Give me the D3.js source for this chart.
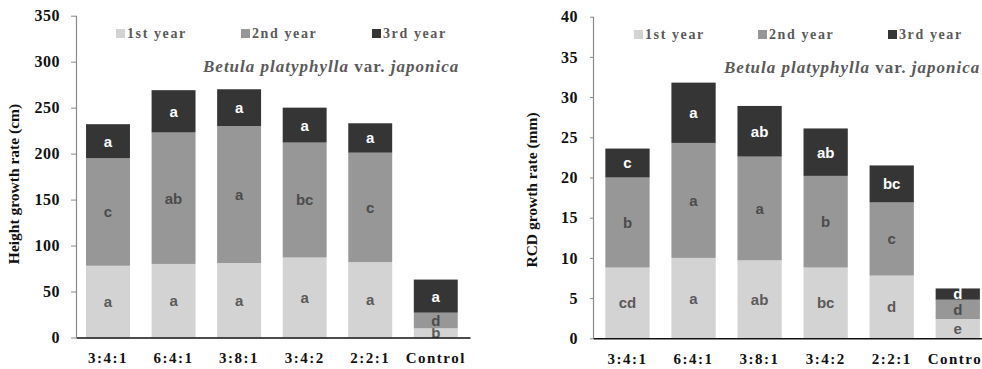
<!DOCTYPE html>
<html>
<head>
<meta charset="utf-8">
<script src="https://cdn.jsdelivr.net/npm/d3@7"></script>
<style>
  body { margin: 0; background: #fff; }
  svg { display: block; }
</style>
</head>
<body>
<svg id="chart" width="982" height="369"></svg>
<script>
// Treatments (fertiliser ratios) and growing seasons
const treatments = ["3:4:1", "6:4:1", "3:8:1", "3:4:2", "2:2:1", "Control"];
const seasons = ["1st year", "2nd year", "3rd year"];

// Height growth (cm) per season, stacked
const heightYear1 = [78, 80, 81, 87, 82, 10];
const heightYear2 = [117, 143, 149, 125, 119, 17];
const heightYear3 = [37, 46, 40, 38, 32, 36];
const heightLetters1 = ["a", "a", "a", "a", "a", "b"];
const heightLetters2 = ["c", "ab", "a", "bc", "c", "d"];
const heightLetters3 = ["a", "a", "a", "a", "a", "a"];
const heightTicks = [0, 50, 100, 150, 200, 250, 300, 350];

// Root collar diameter growth (mm) per season, stacked
const rcdYear1 = [8.8, 10.0, 9.7, 8.8, 7.8, 2.4];
const rcdYear2 = [11.2, 14.3, 12.9, 11.4, 9.1, 2.4];
const rcdYear3 = [3.6, 7.5, 6.3, 5.9, 4.6, 1.4];
const rcdLetters1 = ["cd", "a", "ab", "bc", "d", "e"];
const rcdLetters2 = ["b", "a", "a", "b", "c", "d"];
const rcdLetters3 = ["c", "a", "ab", "ab", "bc", "d"];
const rcdTicks = [0, 5, 10, 15, 20, 25, 30, 35, 40];

const seasonFill = ["#d3d3d3", "#979797", "#353535"];
const letterFill = ["#5a5a5a", "#4c4c4c", "#ffffff"];
const serif = "'Liberation Serif', 'Times New Roman', serif";
const sans = "'Liberation Sans', Arial, sans-serif";

const svg = d3.select("#chart");

function panel(cfg) {
  const rows = treatments.map((t, i) => ({
    treatment: t,
    y1: cfg.years[0][i], y2: cfg.years[1][i], y3: cfg.years[2][i],
    l1: cfg.letters[0][i], l2: cfg.letters[1][i], l3: cfg.letters[2][i]
  }));
  const stack = d3.stack().keys(["y1", "y2", "y3"])(rows);

  const x = d3.scaleBand()
    .domain(treatments)
    .range([cfg.left, cfg.right])
    .paddingInner(0.33)
    .paddingOuter(0.17)
    .align(cfg.align);

  const y = d3.scaleLinear()
    .domain([0, cfg.max])
    .range([cfg.bottom, cfg.top]);

  const g = svg.append("g");

  // stacked bars
  stack.forEach((layer, s) => {
    g.append("g").selectAll("rect")
      .data(layer)
      .join("rect")
      .attr("x", d => x(d.data.treatment))
      .attr("width", x.bandwidth())
      .attr("y", d => y(d[1]))
      .attr("height", d => y(d[0]) - y(d[1]))
      .attr("fill", seasonFill[s]);

    const key = ["l1", "l2", "l3"][s];
    g.append("g").selectAll("text")
      .data(layer)
      .join("text")
      .attr("x", d => x(d.data.treatment) + x.bandwidth() / 2)
      .attr("y", d => (y(d[0]) + y(d[1])) / 2)
      .attr("dy", "0.36em")
      .attr("text-anchor", "middle")
      .attr("font-family", sans)
      .attr("font-weight", "bold")
      .attr("font-size", 15)
      .attr("fill", letterFill[s])
      .text(d => d.data[key]);
  });

  // y axis
  const yAxis = g.append("g")
    .attr("transform", `translate(${cfg.left},0)`)
    .call(d3.axisLeft(y).tickValues(cfg.ticks).tickSize(cfg.tickLen).tickPadding(cfg.tickPad).tickSizeOuter(0));
  yAxis.select(".domain").attr("stroke", "#8a8a8a").attr("stroke-width", 1.2)
    .attr("d", `M0.5,${cfg.bottom}V${y(cfg.max)}`);
  yAxis.selectAll(".tick line").attr("stroke", "#8a8a8a");
  yAxis.selectAll(".tick text")
    .attr("font-family", serif)
    .attr("font-weight", "bold")
    .attr("font-size", 16)
    .attr("letter-spacing", "0.5px")
    .attr("fill", "#111");

  // x axis
  const xAxis = g.append("g")
    .attr("transform", `translate(0,${cfg.bottom})`)
    .call(d3.axisBottom(x).tickSize(0).tickPadding(15));
  xAxis.select(".domain").attr("stroke", "#111").attr("stroke-width", 1.6);
  xAxis.selectAll(".tick text")
    .attr("font-family", serif)
    .attr("font-weight", "bold")
    .attr("font-size", 15)
    .attr("letter-spacing", "1.5px")
    .attr("fill", "#111");

  // y axis title
  g.append("text")
    .attr("transform", `translate(${cfg.labelX},${cfg.labelY}) rotate(-90)`)
    .attr("text-anchor", "middle")
    .attr("font-family", serif)
    .attr("font-weight", "bold")
    .attr("font-size", 15.5)
    .attr("fill", "#111")
    .text(cfg.label);

  // legend
  seasons.forEach((name, s) => {
    const tx = cfg.left + cfg.legendOffsets[s];
    g.append("rect")
      .attr("x", tx - 11).attr("y", cfg.legendY - 9)
      .attr("width", 9).attr("height", 9)
      .attr("fill", seasonFill[s]);
    g.append("text")
      .attr("x", tx).attr("y", cfg.legendY)
      .attr("font-family", serif)
      .attr("font-weight", "bold")
      .attr("font-size", 14)
      .attr("letter-spacing", "1.6px")
      .attr("fill", "#5a5a5a")
      .text(name);
  });

  // species name
  const sp = g.append("text")
    .attr("x", cfg.left + cfg.titleOffset)
    .attr("y", cfg.titleY)
    .attr("font-family", serif)
    .attr("font-weight", "bold")
    .attr("font-size", 17)
    .attr("letter-spacing", "1px")
    .attr("fill", "#5a5a5a");
  sp.append("tspan").attr("font-style", "italic").text("Betula platyphylla");
  sp.append("tspan").text("  var. ");
  sp.append("tspan").attr("font-style", "italic").text("japonica");
}

panel({
  years: [heightYear1, heightYear2, heightYear3],
  letters: [heightLetters1, heightLetters2, heightLetters3],
  ticks: heightTicks, max: 350,
  left: 76, right: 470, align: 0.45,
  top: 15.7, bottom: 337.5,
  tickLen: 5, tickPad: 11,
  label: "Height growth rate (cm)", labelX: 19, labelY: 184,
  legendOffsets: [51, 176, 307], legendY: 38,
  titleOffset: 127, titleY: 72
});

panel({
  years: [rcdYear1, rcdYear2, rcdYear3],
  letters: [rcdLetters1, rcdLetters2, rcdLetters3],
  ticks: rcdTicks, max: 40,
  left: 593, right: 990, align: 0.55,
  top: 16.7, bottom: 338.3,
  tickLen: 3, tickPad: 12,
  label: "RCD growth rate (mm)", labelX: 537, labelY: 190,
  legendOffsets: [52, 176, 306], legendY: 39,
  titleOffset: 131, titleY: 73
});
</script>
</body>
</html>
